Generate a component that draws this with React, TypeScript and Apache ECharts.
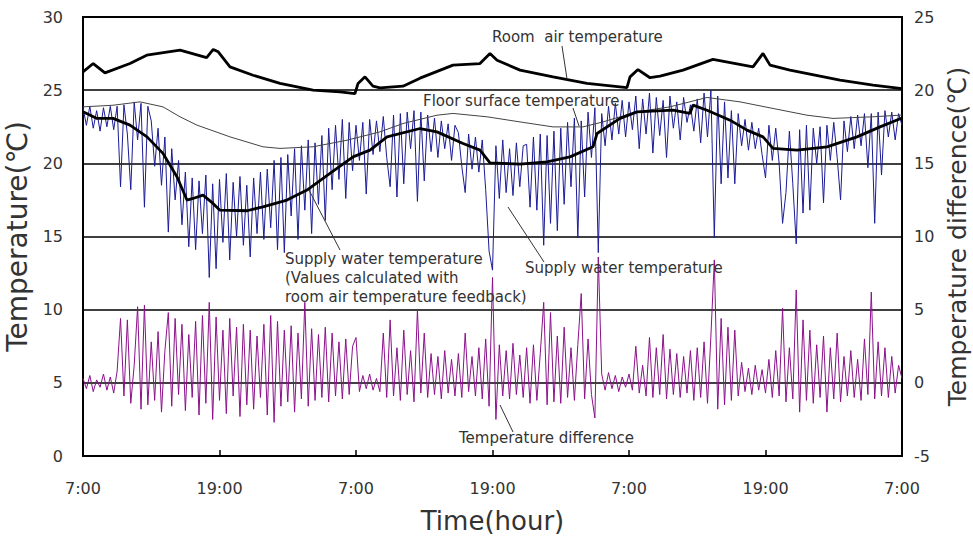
import React, { useEffect, useRef } from "react";
import * as echarts from "echarts";

const xTickLabels = ["7:00", "19:00", "7:00", "19:00", "7:00", "19:00", "7:00"];

// Room air temperature (hours from start, °C)
const roomHours = [0, 0.9, 1.93, 4.13, 5.6, 8.53, 10.87, 11.45, 11.89, 12.92, 14.95, 17.32, 20.22, 22.59, 23.91, 24.18, 24.79, 25.49, 26.11, 28.13, 29.63, 32.53, 34.9, 35.78, 36.4, 38.42, 41.32, 44.31, 47.82, 48.09, 48.79, 49.85, 50.73, 52.75, 55.38, 58.9, 59.78, 60.4, 62.15, 66.55, 69.45, 72];
const roomTemp = [26.25, 26.82, 26.18, 26.82, 27.39, 27.73, 27.23, 27.78, 27.62, 26.59, 26.02, 25.46, 25.0, 24.88, 24.77, 25.46, 25.91, 25.27, 25.16, 25.27, 25.82, 26.71, 26.82, 27.51, 27.05, 26.37, 25.91, 25.46, 25.18, 25.91, 26.41, 25.85, 25.96, 26.37, 27.1, 26.59, 27.51, 26.71, 26.37, 25.68, 25.34, 25.1];

// Floor surface temperature
const floorHours = [0, 2.64, 5.01, 7.03, 8.53, 10.02, 12.92, 15.82, 17.32, 20.22, 23.21, 26.11, 28.13, 31.12, 32.53, 35.52, 38.42, 41.32, 43.96, 45.71, 47.21, 48.7, 51.6, 54.86, 57.76, 60.66, 63.65, 65.93, 69.45, 72];
const floorTemp = [23.86, 23.97, 24.2, 23.86, 23.18, 22.61, 21.81, 21.13, 21.02, 21.13, 21.58, 22.15, 22.72, 23.29, 23.41, 23.18, 22.83, 22.49, 22.49, 22.83, 23.18, 23.52, 23.86, 24.5, 24.2, 23.75, 23.29, 23.07, 23.18, 23.3];

// Supply water temperature calculated with room air temperature feedback
const calcHours = [0, 1.23, 2.64, 4.13, 5.63, 7.03, 8.26, 9.14, 9.67, 10.55, 11.43, 12.04, 14.42, 15.82, 17.93, 19.69, 21.71, 23.74, 25.23, 26.73, 29.63, 31.12, 33.41, 34.9, 35.78, 38.42, 40.79, 42.81, 44.84, 45.19, 47.21, 48.7, 51.87, 53.36, 53.63, 54.86, 56.88, 58.37, 59.78, 60.66, 62.77, 65.41, 68.04, 70.07, 72];
const calcTemp = [23.52, 23.07, 23.07, 22.61, 21.81, 20.68, 19.08, 17.49, 17.6, 17.83, 17.26, 16.8, 16.76, 17.03, 17.49, 18.17, 19.31, 20.44, 20.9, 21.81, 22.38, 22.15, 21.36, 20.9, 20.03, 19.95, 20.1, 20.44, 21.13, 22.04, 23.07, 23.52, 23.63, 23.41, 23.98, 23.63, 22.95, 22.27, 21.81, 21.02, 20.9, 21.13, 21.81, 22.49, 23.1];

// Measured series sampled every 0.3 h
const SAMPLE_STEP = 0.3;
const supplyTemp = [
  23.8, 22.6, 23.9, 22.4, 23.6, 22.2, 23.8, 22.5, 23.9, 22.3,
  23.9, 18.4, 24.0, 22.0, 18.2, 24.2, 21.6, 24.1, 17.0, 23.9,
  22.9, 19.8, 22.4, 18.5, 21.8, 15.3, 21.0, 17.5, 20.2, 15.8,
  19.4, 14.3, 19.0, 14.1, 18.8, 15.2, 19.2, 12.2, 18.6, 12.8,
  18.9, 14.6, 19.3, 13.4, 18.7, 15.0, 19.1, 14.4, 18.5, 13.6,
  19.0, 15.2, 19.4, 14.8, 19.6, 15.6, 20.2, 14.1, 20.4, 13.9,
  20.6, 16.4, 21.0, 14.8, 21.2, 16.8, 21.6, 15.2, 21.4, 17.2,
  21.9, 16.1, 22.4, 18.2, 22.6, 18.9, 23.0, 17.6, 22.8, 19.5,
  22.6, 20.2, 22.8, 17.9, 23.0, 20.6, 22.9, 20.8, 23.2, 20.4,
  18.4, 23.3, 17.7, 23.4, 18.6, 23.5, 21.0, 23.6, 17.4, 23.5,
  18.8, 23.3, 20.8, 23.1, 20.4, 22.9, 21.0, 22.7, 20.2, 22.6,
  22.1, 19.8, 18.0, 22.0, 19.6, 21.8, 19.4, 21.6, 18.2, 14.0,
  12.7, 21.2, 17.6, 21.6, 18.0, 21.0, 17.8, 21.4, 18.4, 21.2,
  21.3, 17.0, 21.8, 16.8, 22.0, 14.4, 21.9, 15.9, 22.2, 15.4,
  22.4, 17.2, 22.8, 18.4, 23.1, 14.9, 22.9, 17.7, 23.5, 20.4,
  23.8, 13.9, 23.4, 21.2, 23.9, 21.6, 24.1, 22.0, 24.3, 21.8,
  24.2, 22.3, 24.6, 21.0, 24.4, 22.0, 24.8, 20.7, 24.5, 21.9,
  24.3, 20.4, 24.6, 22.4, 24.2, 21.6, 24.5, 22.8, 24.0, 22.2,
  24.4, 21.4, 24.8, 21.8, 25.0, 14.9, 24.6, 18.6, 24.2, 19.0,
  23.6, 18.6, 23.4, 21.2, 23.0, 20.9, 22.8, 21.0, 22.4, 20.6,
  19.0, 22.6, 20.2, 22.4, 20.0, 15.9, 18.0, 22.2, 18.6, 14.5,
  22.3, 16.6, 22.6, 16.8, 22.4, 20.0, 22.5, 17.3, 22.6, 20.2,
  22.8, 20.4, 17.5, 22.9, 20.8, 23.2, 21.0, 23.3, 21.2, 23.4,
  19.7, 23.4, 15.9, 23.5, 19.2, 23.6, 21.8, 23.5, 21.6, 23.4, 22.6
];
const tempDiff = [
  0.3, -0.4, 0.5, -0.6, 0.2, -0.3, 0.6, -0.5, 0.4, -0.7,
  0.8, 4.4, -0.9, 4.3, -1.4, 1.2, 5.2, -1.8, 5.3, -1.5,
  2.8, -1.2, 3.5, -2.0, 2.2, 4.8, -1.6, 4.4, -0.8, 4.0,
  -1.9, 3.3, -1.0, 4.2, -2.2, 4.6, -1.4, 5.5, -2.5, 4.5,
  -1.2, 3.6, -2.1, 4.4, -0.9, 3.8, -2.3, 4.0, -1.5, 3.6,
  -1.8, 3.2, -1.0, 4.0, -2.2, 4.6, -2.7, 4.2, -1.6, 3.6,
  -1.3, 3.9, -2.0, 3.4, -1.1, 5.5, -1.6, 3.7, -1.2, 3.3,
  -1.0, 3.8, -1.3, 3.4, -0.9, 2.8, -1.1, 3.0, -0.8, 2.5,
  3.1, -0.6, 0.5, -0.4, 0.6, -0.5, 0.3, -0.6, 3.4, -1.0,
  4.3, -0.9, 2.4, -1.2, 3.6, -0.8, 2.2, -1.3, 5.0, -0.7,
  3.4, -1.0, 2.0, -0.8, 1.8, -1.1, 2.2, -0.7, 1.6, -0.9,
  2.0, -1.0, 3.4, -0.6, 1.8, -0.9, 2.4, -1.1, 3.0, -1.6,
  7.2, -2.5, 2.6, -0.9, 2.2, -1.1, 2.7, -0.8, 1.9, -1.0,
  2.4, -1.4, 2.6, -1.2, 2.0, 5.5, -1.5, 4.8, -1.3, 3.2,
  -1.4, 3.8, -1.0, 2.4, -1.2, 2.6, 6.1, -1.1, 3.0, -0.8,
  -2.4, 8.6, 0.6, -0.5, 0.7, -0.4, 0.5, -0.6, 0.4, -0.3,
  0.6, -0.5, 2.5, -0.7, 1.2, -0.9, 3.1, -1.0, 2.4, -0.8,
  3.3, -1.1, 2.3, -0.8, 2.0, -1.0, 1.8, -0.7, 2.2, -1.2,
  2.4, -1.0, 2.8, -1.4, 3.2, 8.4, -1.8, 4.4, -1.5, 3.8,
  -1.2, 3.6, -0.9, 1.4, -0.6, 1.0, -0.8, 1.2, -0.5, 0.9,
  -0.7, 1.6, -1.0, 2.2, -0.9, 5.1, -1.3, 2.4, -1.1, 6.35,
  -2.0, 4.3, -1.2, 3.6, -1.4, 2.6, -1.0, 3.2, -2.0, 2.4,
  -1.1, 3.4, -1.3, 1.8, -0.9, 2.2, -1.0, 1.6, -1.2, 3.0,
  -0.8, 6.2, -1.1, 2.8, -0.9, 2.4, -1.0, 1.8, -0.7, 1.2, 0.3
];

const FONT = "'DejaVu Sans', 'Liberation Sans', sans-serif";

export default function App() {
  const ref = useRef<HTMLDivElement>(null);
  useEffect(() => {
    if (!ref.current) return;
    const chart = echarts.init(ref.current, null, { renderer: "svg" });
    const pair = (xs: number[], ys: number[]) => xs.map((x, i) => [x, ys[i]]);
    const sampled = (ys: number[]) => ys.map((y, i) => [+(i * SAMPLE_STEP).toFixed(2), y]);
    const textColor = "#333";
    chart.setOption({
      animation: false,
      backgroundColor: "#fff",
      grid: { left: 83, right: 71, top: 17, bottom: 81, outerBoundsMode: "none", containLabel: false, show: true, borderColor: "#000", borderWidth: 2, backgroundColor: "transparent" },
      xAxis: {
        type: "value", min: 0, max: 72, interval: 12,
        name: "Time(hour)", nameLocation: "middle", nameGap: 52,
        nameTextStyle: { fontSize: 26, color: textColor, fontFamily: FONT },
        axisLine: { show: true, lineStyle: { color: "#000", width: 2 } },
        axisTick: { show: true, inside: true, length: 6, lineStyle: { color: "#000", width: 1.5 } },
        axisLabel: { formatter: (v: number) => xTickLabels[Math.round(v / 12)] ?? "", fontSize: 16, color: textColor, margin: 24, fontFamily: FONT },
        splitLine: { show: false },
      },
      yAxis: [
        {
          type: "value", min: 0, max: 30, interval: 5,
          name: "Temperature(℃)", nameLocation: "middle", nameGap: 48, nameRotate: 90,
          nameTextStyle: { fontSize: 28, color: textColor, fontFamily: FONT },
          axisLine: { show: true, lineStyle: { color: "#000", width: 2 } },
          axisTick: { show: false },
          axisLabel: { fontSize: 16, color: textColor, margin: 20, fontFamily: FONT },
          splitLine: { show: true, lineStyle: { color: "#000", width: 1.6 } },
        },
        {
          type: "value", min: -5, max: 25, interval: 5,
          name: "Temperature difference(℃)", nameLocation: "middle", nameGap: 40, nameRotate: 90,
          nameTextStyle: { fontSize: 25, color: textColor, fontFamily: FONT },
          axisLine: { show: true, lineStyle: { color: "#000", width: 2 } },
          axisTick: { show: false },
          axisLabel: { fontSize: 16, color: textColor, margin: 12, fontFamily: FONT },
          splitLine: { show: false },
        },
      ],
      series: [
        { name: "Temperature difference", type: "line", yAxisIndex: 1, data: sampled(tempDiff), showSymbol: false, lineStyle: { color: "#8b118b", width: 1 }, z: 2 },
        { name: "Supply water temperature", type: "line", data: sampled(supplyTemp), showSymbol: false, lineStyle: { color: "#1b1b96", width: 1 }, z: 3 },
        { name: "Floor surface temperature", type: "line", data: pair(floorHours, floorTemp), showSymbol: false, lineStyle: { color: "#444", width: 1 }, z: 4 },
        { name: "Supply water temperature (calculated)", type: "line", data: pair(calcHours, calcTemp), showSymbol: false, lineStyle: { color: "#000", width: 2.8 }, z: 5 },
        { name: "Room air temperature", type: "line", data: pair(roomHours, roomTemp), showSymbol: false, lineStyle: { color: "#000", width: 2.8 }, z: 6 },
      ],
      graphic: [
        { type: "text", x: 492, y: 29, style: { text: "Room  air temperature", font: `15px ${FONT}`, fill: textColor }, z: 10 },
        { type: "line", shape: { x1: 562, y1: 46, x2: 567, y2: 79 }, style: { stroke: "#333", lineWidth: 1 }, z: 10 },
        { type: "text", x: 423, y: 93, style: { text: "Floor surface temperature", font: `15px ${FONT}`, fill: textColor }, z: 10 },
        { type: "line", shape: { x1: 573, y1: 108, x2: 579, y2: 126 }, style: { stroke: "#333", lineWidth: 1 }, z: 10 },
        { type: "text", x: 285, y: 249, style: { text: "Supply water temperature\n(Values calculated with\nroom air temperature feedback)", font: `15px ${FONT}`, fill: textColor, lineHeight: 19 }, z: 10 },
        { type: "line", shape: { x1: 340, y1: 250, x2: 309, y2: 190 }, style: { stroke: "#333", lineWidth: 1 }, z: 10 },
        { type: "text", x: 525, y: 260, style: { text: "Supply water temperature", font: `15px ${FONT}`, fill: textColor }, z: 10 },
        { type: "line", shape: { x1: 544, y1: 262, x2: 508, y2: 207 }, style: { stroke: "#333", lineWidth: 1 }, z: 10 },
        { type: "text", x: 459, y: 430, style: { text: "Temperature difference", font: `15px ${FONT}`, fill: textColor }, z: 10 },
        { type: "line", shape: { x1: 513, y1: 432, x2: 500, y2: 405 }, style: { stroke: "#333", lineWidth: 1 }, z: 10 },
      ],
    });
    return () => chart.dispose();
  }, []);
  return <div ref={ref} style={{ width: 973, height: 537, position: "absolute", left: 0, top: 0 }} />;
}
